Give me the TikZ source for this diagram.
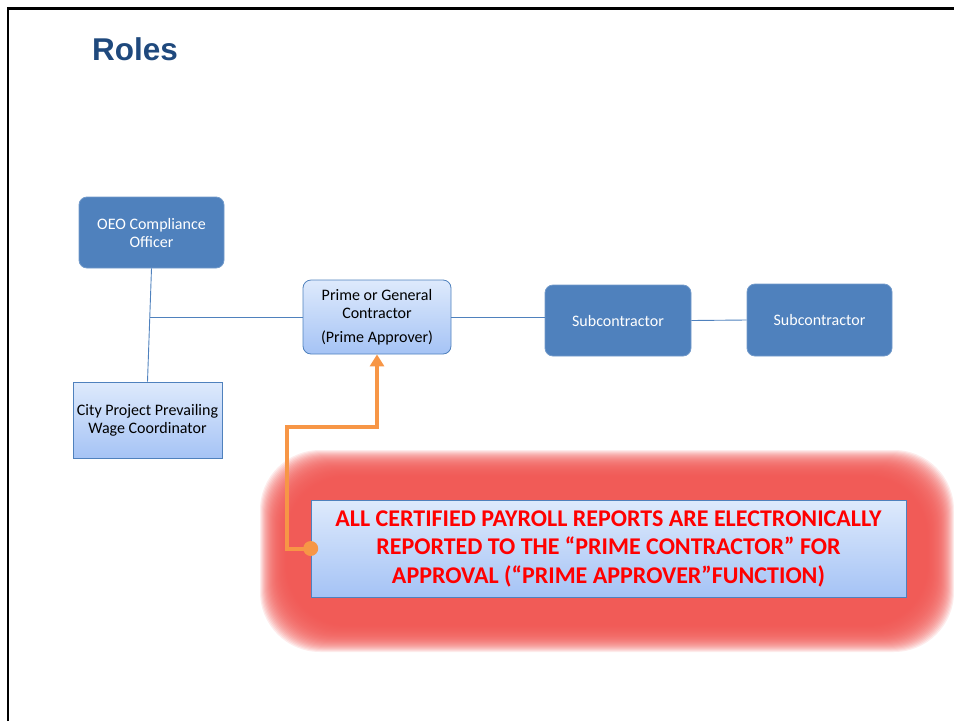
\documentclass[tikz,border=0pt]{standalone}
\usepackage{fontspec}
\setmainfont{Carlito}
\newfontfamily\titlefont{Liberation Sans}
\usetikzlibrary{arrows.meta}
\definecolor{titleblue}{RGB}{31,73,125}
\definecolor{darkbox}{RGB}{79,129,189}
\definecolor{lighttop}{RGB}{222,234,252}
\definecolor{lightbot}{RGB}{165,195,245}
\definecolor{lineblue}{RGB}{79,129,189}
\definecolor{orangeline}{RGB}{247,150,70}
\definecolor{glowred}{RGB}{240,84,80}
\tikzset{
  darkrole/.style={draw=darkbox!80!white, fill=darkbox, rounded corners=8pt, text=white, align=center, font=\fontsize{16}{18}\selectfont, line width=0.8pt},
  lightrole/.style={draw=darkbox, top color=lighttop, bottom color=lightbot, align=center, text=black, font=\fontsize{16}{18}\selectfont, line width=0.8pt},
  conn/.style={draw=lineblue, line width=0.9pt},
  feed/.style={draw=orangeline, line width=4pt},
}
\begin{document}
\begin{tikzpicture}[x=1pt,y=-1pt]
\useasboundingbox (0,0) rectangle (954,721);
% frame
\draw[line width=2.5pt] (8,721) -- (8,8.5) -- (954,8.5);
% title
\node[anchor=base west, inner sep=0, text=titleblue, font=\titlefont\bfseries\fontsize{31.5}{36}\selectfont] (title) at (92,60) {Roles};
% glow
\foreach \i in {0,...,27}{
  \fill[glowred, opacity=0.11, rounded corners=60pt] (260+\i*1,450+\i*1) rectangle (954-\i*1,652-\i*1);
}
% nodes
\node[darkrole, minimum width=145pt, minimum height=71pt] (oeo) at (151.5,232.5) {OEO Compliance\\Officer};
\node[lightrole, rounded corners=8pt, minimum width=148pt, minimum height=74pt] (prime) at (377,317) {Prime or General\\Contractor\\[6pt](Prime Approver)};
\node[darkrole, minimum width=146pt, minimum height=71pt] (sub1) at (618,320.5) {Subcontractor};
\node[darkrole, minimum width=145pt, minimum height=72pt] (sub2) at (819.5,320) {Subcontractor};
\node[lightrole, minimum width=149pt, minimum height=76pt] (city) at (147.5,420) {City Project Prevailing\\Wage Coordinator};
\node[lightrole, draw=darkbox, line width=0.6pt, minimum width=595pt, minimum height=97pt, text=red, font=\bfseries\fontsize{24}{28.5}\selectfont] (note) at (608.5,548.5) {ALL CERTIFIED PAYROLL REPORTS ARE ELECTRONICALLY\\REPORTED TO THE “PRIME CONTRACTOR” FOR\\APPROVAL (“PRIME APPROVER”FUNCTION)};
% connectors
\coordinate (junction) at (150,317);
\draw[conn] (oeo.south) -- (city.north);
\draw[conn] (junction) -- (prime.west);
\draw[conn] (prime.east) -- (prime.east -| sub1.west);
\draw[conn] (sub1.east) -- (sub2.west);
% orange feed arrow
\coordinate (bendA) at (287,427);
\draw[feed, -{Triangle[length=12pt,width=14pt]}] (note.west) -| (bendA) -| (prime.south);
\fill[orangeline] (note.west) circle (7.5pt);
\end{tikzpicture}
\end{document}
